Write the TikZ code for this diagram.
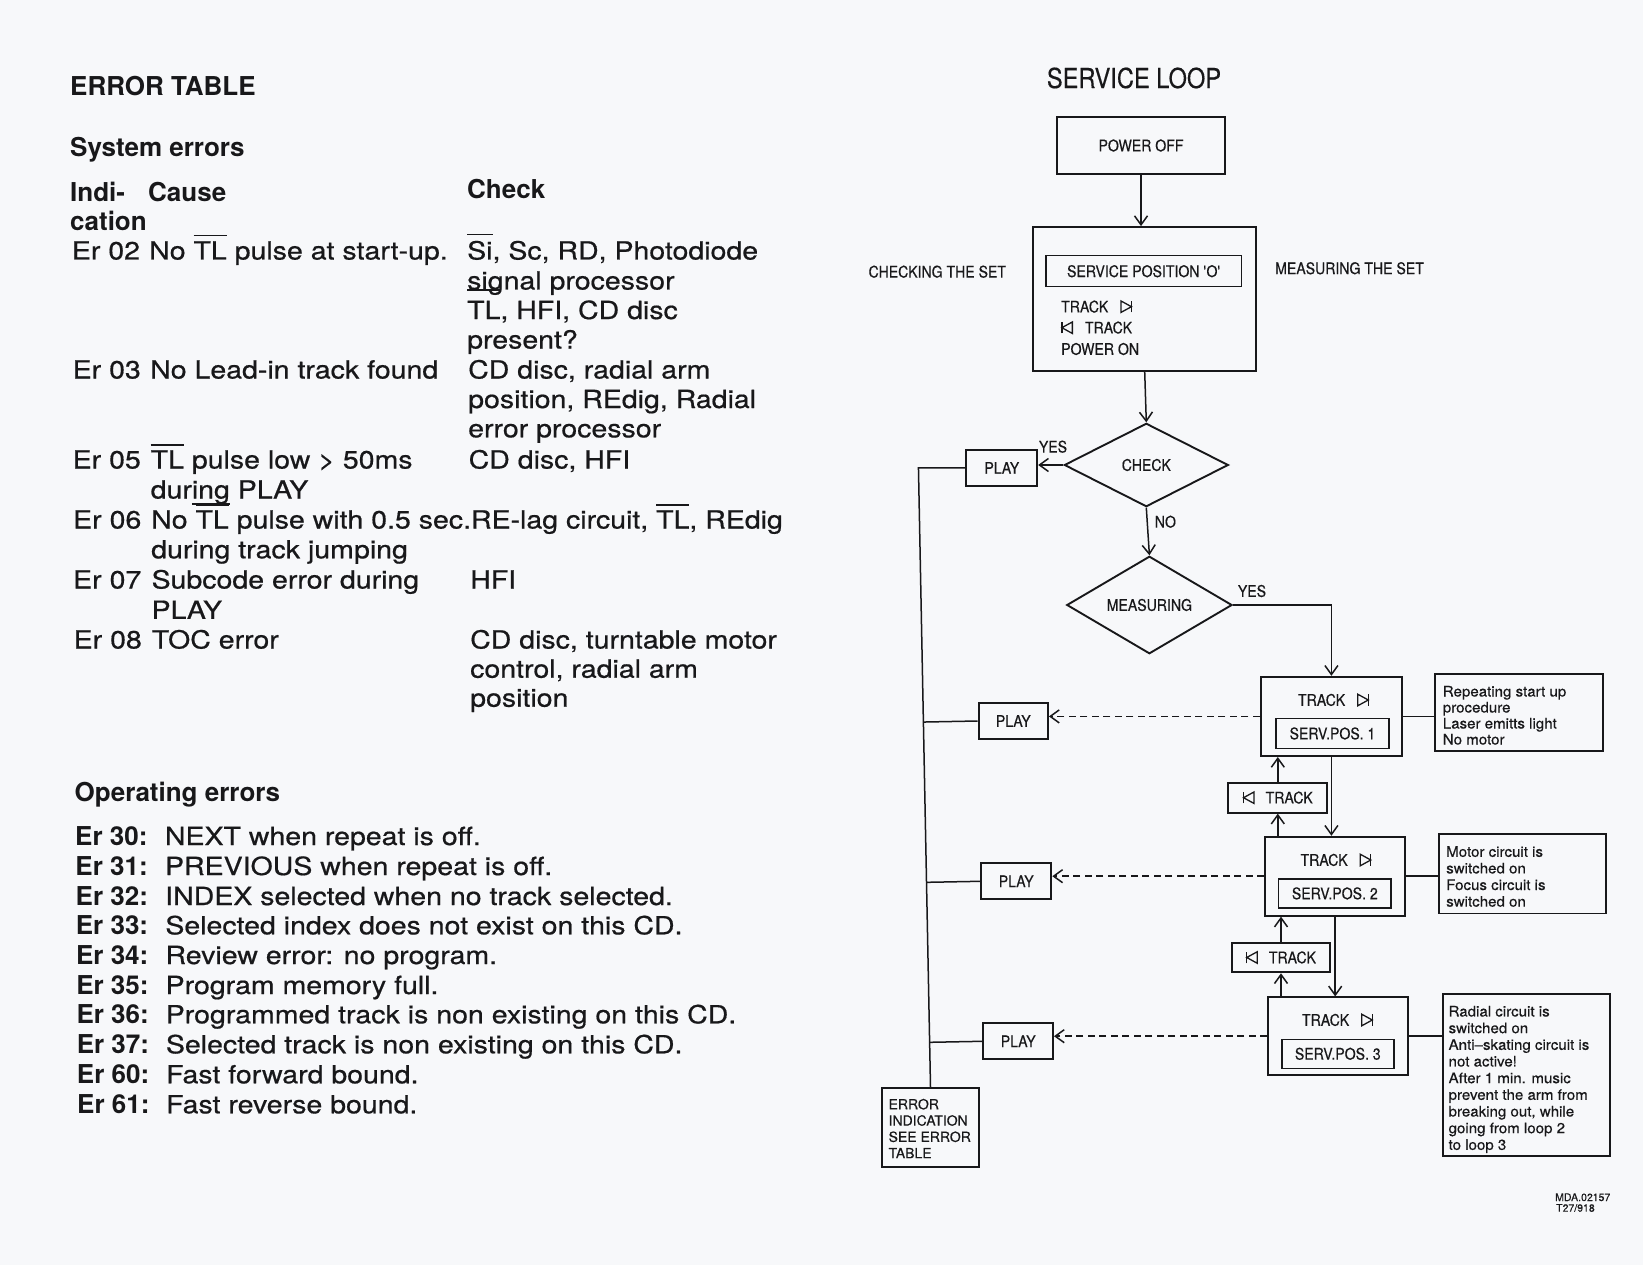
\documentclass[tikz,border=0pt]{standalone}
\usepackage{fontspec}
\setmainfont{TeX Gyre Heros}
\newfontfamily\bodyf[FakeStretch=1.14,FakeBold=0.6]{TeX Gyre Heros}
\newfontfamily\condf[FakeStretch=0.88,FakeBold=0.4]{TeX Gyre Heros}
\newfontfamily\titlef[FakeStretch=0.86,FakeBold=0.3]{TeX Gyre Heros}
\newfontfamily\notef[FakeStretch=1.04,FakeBold=0.4]{TeX Gyre Heros}
\newfontfamily\smallf[FakeBold=0.4]{TeX Gyre Heros}
\usetikzlibrary{shapes.geometric,arrows.meta,calc}
\definecolor{ink}{RGB}{24,24,26}
\definecolor{paper}{RGB}{247,248,250}
\newlength\ovlw
\newcommand\ovl[2][23pt]{\settowidth\ovlw{#2}\rlap{\rule[#1]{\ovlw}{1.8pt}}#2}
\newcommand\ulin[1]{\settowidth\ovlw{#1}\rlap{\rule[-6pt]{\ovlw}{1.7pt}}#1}
\newcommand\nexticon{\tikz[x=1pt,y=1pt,baseline=0pt,line width=1.3pt,line join=miter]{\draw[ink] (0,0)--(0,11.5)--(10.5,5.75)--cycle; \draw[ink] (10.5,0)--(10.5,11.5);}}
\newcommand\previcon{\tikz[x=1pt,y=1pt,baseline=0pt,line width=1.3pt,line join=miter]{\draw[ink] (0,0)--(0,11.5); \draw[ink] (10.5,0)--(10.5,11.5)--(0,5.75)--cycle;}}
\tikzset{
  box/.style={draw=ink, text=ink, line width=1.9pt, inner sep=0pt, font=\condf\fontsize{16}{18}\selectfont},
  ibox/.style={draw=ink, text=ink, line width=1.5pt, inner sep=0pt, font=\condf\fontsize{16}{18}\selectfont},
  nbox/.style={draw=ink, line width=1.5pt, inner sep=0pt},
  dia/.style={diamond, draw=ink, text=ink, line width=1.9pt, inner sep=0pt, font=\condf\fontsize{16}{18}\selectfont},
  lbl/.style={inner sep=0pt, text=ink, font=\condf\fontsize{16}{18}\selectfont},
  conn/.style={draw=ink, line width=1.5pt},
  arr/.style={conn, -{Straight Barb[length=9pt,width=13pt,line width=1.5pt]}},
  dasharr/.style={arr, dash pattern=on 7pt off 4.5pt},
  txt/.style={anchor=base west, inner sep=0pt, text=ink, font=\bodyf\fontsize{25}{28}\selectfont},
  hd/.style={anchor=base west, inner sep=0pt, text=ink, font=\bfseries\fontsize{26}{30}\selectfont},
  ntxt/.style={anchor=base west, inner sep=0pt, text=ink, font=\notef\fontsize{14.5}{16}\selectfont},
  etxt/.style={anchor=base west, inner sep=0pt, text=ink, font=\smallf\fontsize{14}{16}\selectfont},
}
\begin{document}
\begin{tikzpicture}[x=1pt,y=-1pt]
\path[fill=paper] (0,0) rectangle (1643,1265);
\useasboundingbox (0,0) rectangle (1643,1265);

% ---------------- ERROR TABLE ----------------
\node[hd] (h1) at (70,96) {ERROR TABLE};
\node[hd] (h2) at (70,156.7) {System errors};
\node[hd] (h3) at (70,201.7) {Indi-};
\node[hd] (h4) at (148,201.7) {Cause};
\node[hd] (h5) at (467,198.3) {Check};
\node[hd] (h6) at (70,231) {cation};

\node[txt] (e02a) at (71.7,259.5) {Er 02};
\node[txt] (e02b) at (149,259.5) {No \ovl{TL} pulse at start-up.};
\node[txt] (e02c) at (467,259.5) {\ovl[24pt]{Si}, Sc, RD, Photodiode};
\node[txt] (e02d) at (467,289.5) {signal processor};
\node[txt] (e02e) at (467,319) {\ovl[28pt]{TL}, HFI, CD disc};
\node[txt] (e02f) at (467,348.5) {present?};

\node[txt] (e03a) at (72.5,378.5) {Er 03};
\node[txt] (e03b) at (150,378.5) {No Lead-in track found};
\node[txt] (e03c) at (468,378.5) {CD disc, radial arm};
\node[txt] (e03d) at (468,408) {position, REdig, Radial};
\node[txt] (e03e) at (468,437.3) {error processor};

\node[txt] (e05a) at (72.5,468.5) {Er 05};
\node[txt] (e05b) at (150.5,468.5) {\ovl{TL} pulse low > 50ms};
\node[txt] (e05c) at (468.5,468.5) {CD disc, HFI};
\node[txt] (e05d) at (150.5,498.5) {dur\ulin{ing} PLAY};

\node[txt] (e06a) at (73,528.5) {Er 06};
\node[txt] (e06b) at (151,528.5) {No \ovl{TL} pulse with 0.5 sec.RE-lag circuit, \ovl{TL}, REdig};
\node[txt] (e06c) at (151,558.3) {during track jumping};

\node[txt] (e07a) at (73,588.5) {Er 07};
\node[txt] (e07b) at (151.4,588.5) {Subcode error during};
\node[txt] (e07c) at (470,588.5) {HFI};
\node[txt] (e07d) at (151.4,618.8) {PLAY};

\node[txt] (e08a) at (73.5,648.5) {Er 08};
\node[txt] (e08b) at (151.6,648.5) {TOC error};
\node[txt] (e08c) at (470,648.5) {CD disc, turntable motor};
\node[txt] (e08d) at (470,677.7) {control, radial arm};
\node[txt] (e08e) at (470,706.7) {position};

% ---------------- Operating errors ----------------
\node[hd] (h7) at (74.5,801.7) {Operating errors};
\foreach \c/\t/\yy [count=\i] in {30/{NEXT when repeat is off.}/845,
  31/{PREVIOUS when repeat is off.}/875,
  32/{INDEX selected when no track selected.}/905,
  33/{Selected index does not exist on this CD.}/934.3,
  34/{Review error: no program.}/964,
  35/{Program memory full.}/994,
  36/{Programmed track is non existing on this CD.}/1023.3,
  37/{Selected track is non existing on this CD.}/1053.3,
  60/{Fast forward bound.}/1083.3,
  61/{Fast reverse bound.}/1113.3}{
  \node[hd] (oe\i) at ({74.8+0.22*\i},\yy) {Er \c:};
  \node[txt] (ot\i) at ({164.6+0.14*\i},\yy) {\t};
}

% ---------------- SERVICE LOOP ----------------
\node[inner sep=0pt, text=ink, font=\titlef\fontsize{27.5}{30}\selectfont] (title) at (1134,78) {SERVICE LOOP};
\node[box, minimum width=168pt, minimum height=57pt] (pwr) at (1141,145.5) {POWER OFF};
\node[box, minimum width=222.6pt, minimum height=143.7pt] (svc) at (1144.7,298.9) {};
\node[ibox, minimum width=195.5pt, minimum height=31pt] (svcpos) at (1143.8,271.2) {SERVICE POSITION \textquotesingle O\textquotesingle};
\node[lbl, anchor=west] (trk0) at (1061,306.7) {TRACK\hspace{12pt}\nexticon};
\node[lbl, anchor=west] (prv0) at (1061,327.7) {\previcon\hspace{12pt}TRACK};
\node[lbl, anchor=west] (pon) at (1061,349) {POWER ON};
\node[lbl, anchor=west] (lchk) at (868.4,271.7) {CHECKING THE SET};
\node[lbl, anchor=west] (lmeas) at (1275,268.3) {MEASURING THE SET};

\node[dia, minimum width=164pt, minimum height=83.4pt] (chk) at (1146.3,465) {CHECK};
\node[dia, minimum width=165.3pt, minimum height=83.4pt] (meas) at (1149.4,605) {MEASURING};
\node[lbl] (yes1) at (1053,446.7) {YES};
\node[lbl] (no1) at (1165.4,521.7) {NO};
\node[lbl] (yes2) at (1252,591) {YES};

\node[box, minimum width=70.8pt, minimum height=35.7pt] (p1) at (1001.8,467.9) {PLAY};
\node[box, minimum width=69.4pt, minimum height=36.6pt] (p2) at (1013.3,721) {PLAY};
\node[box, minimum width=70.3pt, minimum height=36pt] (p3) at (1016.2,881.3) {PLAY};
\node[box, minimum width=69.6pt, minimum height=36pt] (p4) at (1018.2,1041.3) {PLAY};

\node[box, minimum width=141.2pt, minimum height=79.3pt] (t1) at (1331.4,716.4) {};
\node[lbl] (t1l) at (1333.5,700) {TRACK\hspace{12pt}\nexticon};
\node[ibox, minimum width=113pt, minimum height=30.4pt] (s1) at (1332.5,733.5) {SERV.POS. 1};
\node[box, minimum width=140.3pt, minimum height=79pt] (t2) at (1335.2,876.2) {};
\node[lbl] (t2l) at (1336,860) {TRACK\hspace{12pt}\nexticon};
\node[ibox, minimum width=112.5pt, minimum height=28.7pt] (s2) at (1334.8,893.4) {SERV.POS. 2};
\node[box, minimum width=140pt, minimum height=77.7pt] (t3) at (1338,1036.2) {};
\node[lbl] (t3l) at (1337.5,1020) {TRACK\hspace{12pt}\nexticon};
\node[ibox, minimum width=112pt, minimum height=29pt] (s3) at (1337.8,1053.8) {SERV.POS. 3};

\node[box, minimum width=99pt, minimum height=30pt] (b1) at (1277.8,797.7) {\previcon\hspace{11pt}TRACK};
\node[box, minimum width=98pt, minimum height=29.6pt] (b2) at (1281,957.5) {\previcon\hspace{11pt}TRACK};

% notes
\node[nbox, minimum width=168pt, minimum height=77pt] (n1) at (1519,712.5) {};
\foreach \t [count=\i] in {Repeating start up, procedure, Laser emitts light, No motor}
  \node[ntxt] (n1t\i) at (1442.6,{680.5+16*\i}) {\t};
\node[nbox, minimum width=167.3pt, minimum height=79.3pt] (n2) at (1522.4,873.7) {};
\foreach \t [count=\i] in {Motor circuit is, switched on, Focus circuit is, switched on}
  \node[ntxt] (n2t\i) at (1446,{840.2+16.6*\i}) {\t};
\node[nbox, minimum width=167pt, minimum height=162pt] (n3) at (1526.5,1075) {};
\foreach \t [count=\i] in {Radial circuit is, switched on, Anti–skating circuit is, not active!, After 1 min. music, prevent the arm from, {breaking out, while}, going from loop 2, to loop 3}
  \node[ntxt] (n3t\i) at (1448.4,{999.8+16.67*\i}) {\t};

% error indication box
\node[draw=ink, line width=1.9pt, minimum width=97.6pt, minimum height=78.4pt, inner sep=0pt] (err) at (930.5,1127.5) {};
\foreach \t [count=\i] in {ERROR, INDICATION, SEE ERROR, TABLE}
  \node[etxt] (et\i) at (888.4,{1093+16.3*\i}) {\t};

\node[anchor=base west, inner sep=0pt, text=ink, font=\smallf\fontsize{10.5}{12}\selectfont] (mda) at (1555,1201) {MDA.02157};
\node[anchor=base west, inner sep=0pt, text=ink, font=\smallf\fontsize{10.5}{12}\selectfont] (t27) at (1556,1211.7) {T27/918};

% connectors
\draw[arr] (pwr.south) -- (pwr.south |- svc.north);
\draw[arr] (svc.south) -- (chk.north);
\draw[arr] (chk.west) -- (chk.west -| p1.east);
\draw[arr] (chk.south) -- (meas.north);
\draw[arr] (meas.east) -| (t1.north);
\draw[conn] (p1.west) -- ++(-47,0) coordinate (bt) -- (err.north);
\draw[conn] ($(bt)!(p2.west)!(err.north)$) -- (p2.west);
\draw[conn] ($(bt)!(p3.west)!(err.north)$) -- (p3.west);
\draw[conn] ($(bt)!(p4.west)!(err.north)$) -- (p4.west);
\draw[dasharr] (t1.west) -- (t1.west -| p2.east);
\draw[dasharr] (t2.west) -- (t2.west -| p3.east);
\draw[dasharr] (t3.west) -- (t3.west -| p4.east);
\draw[arr] (t1.south) -- (t1.south |- t2.north);
\draw[arr] (t2.south) -- (t2.south |- t3.north);
\draw[arr] (b1.north) -- (b1.north |- t1.south);
\draw[arr] (b1.south |- t2.north) -- (b1.south);
\draw[arr] (b2.north) -- (b2.north |- t2.south);
\draw[arr] (b2.south |- t3.north) -- (b2.south);
\draw[conn] (t1.east) -- (t1.east -| n1.west);
\draw[conn] (t2.east) -- (t2.east -| n2.west);
\draw[conn] (t3.east) -- (t3.east -| n3.west);
\end{tikzpicture}
\end{document}
